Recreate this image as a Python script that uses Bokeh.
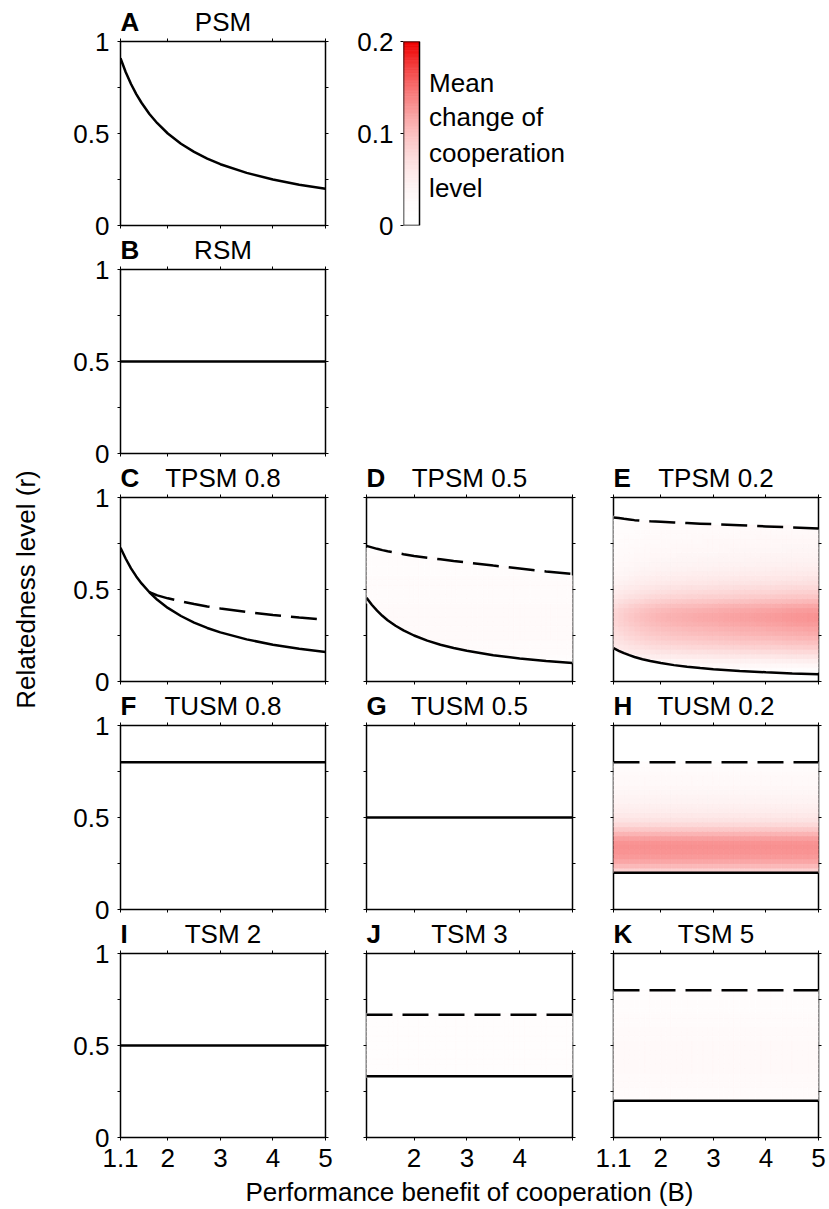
import numpy as np
from bokeh.plotting import figure
from bokeh.layouts import column, row
from bokeh.models import Range1d, LinearAxis, FixedTicker, Spacer, ColumnDataSource, LinearColorMapper
from bokeh.transform import transform
from bokeh.core.properties import value
from bokeh.embed import file_html
from bokeh.resources import INLINE

FONT = "Liberation Sans"
FS = "26px"

# ---------------- data ----------------
B_lim = [1.1, 5.0]
r_lim = [0.0, 1.0]
B_ticks = [1.1, 2, 3, 4, 5]
B_tick_labels = ["1.1", "2", "3", "4", "5"]
r_ticks = [0, 0.5, 1]
r_tick_labels = ["0", "0.5", "1"]
r_minor = [0.25, 0.75]

B_pts = [1.1, 1.2, 1.3, 1.4, 1.5, 1.65, 1.8, 2.0, 2.25, 2.5, 2.75, 3.0, 3.5, 4.0, 4.5, 5.0]
r_psm = [0.909, 0.833, 0.769, 0.714, 0.667, 0.606, 0.556, 0.500, 0.444, 0.400, 0.364, 0.333, 0.286, 0.250, 0.222, 0.200]
r_tpsm08 = [0.727, 0.667, 0.615, 0.571, 0.533, 0.485, 0.444, 0.400, 0.356, 0.320, 0.291, 0.267, 0.229, 0.200, 0.178, 0.160]
B_tpsm08_dash = [1.65, 1.8, 2.0, 2.25, 2.5, 2.75, 3.0, 3.5, 4.0, 4.5, 5.0]
r_tpsm08_dash = [0.485, 0.468, 0.452, 0.436, 0.421, 0.408, 0.397, 0.378, 0.362, 0.348, 0.335]
r_tpsm05 = [0.455, 0.417, 0.385, 0.357, 0.333, 0.303, 0.278, 0.250, 0.222, 0.200, 0.182, 0.167, 0.143, 0.125, 0.111, 0.100]
r_tpsm05_dash = [0.737, 0.729, 0.721, 0.714, 0.708, 0.700, 0.692, 0.682, 0.672, 0.664, 0.655, 0.647, 0.630, 0.614, 0.598, 0.584]
r_tpsm02 = [0.182, 0.167, 0.154, 0.143, 0.133, 0.121, 0.111, 0.100, 0.089, 0.080, 0.073, 0.067, 0.057, 0.050, 0.044, 0.040]
r_tpsm02_dash = [0.891, 0.888, 0.884, 0.881, 0.877, 0.874, 0.871, 0.868, 0.864, 0.861, 0.858, 0.855, 0.849, 0.843, 0.837, 0.832]

B_flat = [1.1, 5.0]
r_rsm = [0.5, 0.5]
r_tusm08 = [0.8, 0.8]
r_tusm05 = [0.5, 0.5]
r_tusm02 = [0.2, 0.2]
r_tusm02_dash = [0.8, 0.8]
r_tsm2 = [0.5, 0.5]
r_tsm3 = [0.333, 0.333]
r_tsm3_dash = [0.667, 0.667]
r_tsm5 = [0.2, 0.2]
r_tsm5_dash = [0.8, 0.8]

# heat-map grid (simulation cells) and read-off profiles (mean change of cooperation level)
heat_B_edges = np.round(np.arange(1.1, 5.0001, 0.1), 3)
heat_r_edges = np.linspace(0, 1, 41)
prof_E = [0, 0, 0.02, 0.035, 0.05, 0.065, 0.078, 0.09, 0.10, 0.108, 0.115, 0.12, 0.126, 0.13,
          0.13, 0.126, 0.118, 0.106, 0.095, 0.086, 0.078, 0.07, 0.064, 0.058, 0.053, 0.049, 0.046,
          0.043, 0.04, 0.038, 0.036, 0.034, 0.032, 0.03, 0.028, 0.026, 0, 0, 0, 0]
fac_E = [0.62, 0.65, 0.68, 0.71, 0.74, 0.77, 0.8, 0.83, 0.85, 0.87, 0.885, 0.9, 0.93, 0.95, 0.98, 1.0]
prof_H = [0, 0, 0, 0, 0, 0, 0, 0, 0.085, 0.105, 0.118, 0.126, 0.13, 0.132, 0.13, 0.122, 0.108,
          0.092, 0.078, 0.067, 0.059, 0.053, 0.048, 0.044, 0.041, 0.038, 0.035, 0.032, 0.03, 0.027,
          0.025, 0.022, 0, 0, 0, 0, 0, 0, 0, 0]
fac_flat = [1.0] * len(B_pts)
prof_D = [0, 0, 0, 0, 0.02, 0.022, 0.024, 0.025, 0.026, 0.027, 0.028, 0.028, 0.028, 0.028, 0.028,
          0.027, 0.027, 0.026, 0.026, 0.025, 0.025, 0.024, 0.024, 0.023, 0.022, 0.022, 0.021, 0.02,
          0.02, 0.02, 0, 0, 0, 0, 0, 0, 0, 0, 0, 0]
prof_J = [0] * 13 + [0.02] * 14 + [0] * 13
prof_K = [0] * 8 + [0.022, 0.024, 0.026, 0.027, 0.028, 0.029, 0.03, 0.03, 0.031, 0.031, 0.031, 0.03,
                    0.03, 0.029, 0.028, 0.027, 0.026, 0.025, 0.024, 0.023, 0.022, 0.021, 0.02, 0.02] + [0] * 8

cb_lim = [0.0, 0.2]
cb_ticks = [0, 0.1, 0.2]
cb_tick_labels = ["0", "0.1", "0.2"]
cb_text = ["Mean", "change of", "cooperation", "level"]
cb_text_y = [0.1550, 0.1177, 0.0789, 0.0409]

y_title = "Relatedness level (r)"
x_title = "Performance benefit of cooperation (B)"

# palette: white -> red
palette = []
for i in range(256):
    s = (i / 255.0) ** 2
    palette.append("#%02x%02x%02x" % (int(round(255 - 15 * s)), int(round(255 * (1 - s))), int(round(255 * (1 - s)))))
mapper = LinearColorMapper(palette=palette, low=cb_lim[0], high=cb_lim[1])

# ---------------- layout ----------------
LEFT_W = 50
COL_W = [295, 246, 238]
COL_BL = [70, 21, 22]
COL_BR = [20, 19, 11]
FRAME_H = 184
TOP_B = 10
BOT_B = [12, 12, 12, 12, 41]
STRIP_H = [31, 22, 22, 22, 22]
XLAB_H = 31
TOTAL_W = sum(COL_W)
col_x0 = np.cumsum([0] + COL_W[:-1])
frame_left = [int(col_x0[i] + COL_BL[i]) for i in range(3)]
frame_w = [COL_W[i] - COL_BL[i] - COL_BR[i] for i in range(3)]
frame_mid = [frame_left[i] + frame_w[i] / 2.0 for i in range(3)]
CAP_MID = 9.3   # half cap height of a 26px font


def blank_fig(w, h):
    p = figure(width=w, height=h, x_range=Range1d(0, w), y_range=Range1d(0, h),
               toolbar_location=None, output_backend="svg",
               min_border=0, min_border_left=0, min_border_right=0, min_border_top=0, min_border_bottom=0,
               x_axis_location=None, y_axis_location=None)
    for g in p.grid:
        g.visible = False
    p.outline_line_color = None
    p.background_fill_color = "white"
    p.border_fill_color = "white"
    return p


def style_axis(ax, show):
    ax.axis_line_color = None
    ax.major_tick_in = 0
    ax.major_tick_out = 3
    ax.minor_tick_in = 0
    ax.minor_tick_out = 3
    ax.major_tick_line_color = "black"
    ax.minor_tick_line_color = "black"
    ax.major_tick_line_width = 1
    ax.minor_tick_line_width = 1
    if show:
        ax.major_label_text_font = FONT
        ax.major_label_text_font_size = FS
        ax.major_label_text_color = "black"
        ax.major_label_standoff = 8
    else:
        ax.major_label_text_font_size = "1px"
        ax.major_label_text_color = None
        ax.major_label_standoff = 0


def heat_cells(prof, fac, Bs, lo, Bd, hi):
    Bc = 0.5 * (heat_B_edges[:-1] + heat_B_edges[1:])
    rc = 0.5 * (heat_r_edges[:-1] + heat_r_edges[1:])
    L, R, Bo, T, V = [], [], [], [], []
    for i, b in enumerate(Bc):
        f = np.interp(b, B_pts, fac)
        low = np.interp(b, Bs, lo)
        high = np.interp(b, Bd, hi)
        for j, r in enumerate(rc):
            v = prof[j] * f
            if v <= 0 or r < low or r > high:
                continue
            L.append(heat_B_edges[i]); R.append(heat_B_edges[i + 1])
            Bo.append(heat_r_edges[j]); T.append(heat_r_edges[j + 1]); V.append(v)
    return ColumnDataSource(dict(left=L, right=R, bottom=Bo, top=T, v=V))


def panel(spec, ci, ri):
    p = figure(width=COL_W[ci], height=TOP_B + FRAME_H + BOT_B[ri],
               x_range=Range1d(B_lim[0], B_lim[1]), y_range=Range1d(r_lim[0], r_lim[1]),
               toolbar_location=None, output_backend="svg",
               min_border_left=COL_BL[ci], min_border_right=COL_BR[ci],
               min_border_top=TOP_B, min_border_bottom=BOT_B[ri],
               x_axis_location=None, y_axis_location=None)
    for g in p.grid:
        g.visible = False
    p.background_fill_color = "white"
    p.border_fill_color = "white"
    p.outline_line_color = "black"
    p.outline_line_width = 1.5

    show_y = ci == 0
    ly = LinearAxis(ticker=FixedTicker(ticks=r_ticks, minor_ticks=r_minor))
    style_axis(ly, show_y)
    if show_y:
        ly.major_label_overrides = {t: s for t, s in zip(r_ticks, r_tick_labels)}
    p.add_layout(ly, "left")
    ry = LinearAxis(ticker=FixedTicker(ticks=r_ticks, minor_ticks=r_minor))
    style_axis(ry, False)
    p.add_layout(ry, "right")

    show_x = ri == 4
    bx = LinearAxis(ticker=FixedTicker(ticks=B_ticks))
    style_axis(bx, show_x)
    if show_x:
        labs = list(B_tick_labels)
        if ci == 1:
            labs[0] = ""
            labs[-1] = ""
        bx.major_label_overrides = {t: s for t, s in zip(B_ticks, labs)}
    p.add_layout(bx, "below")
    tx = LinearAxis(ticker=FixedTicker(ticks=B_ticks))
    style_axis(tx, False)
    p.add_layout(tx, "above")

    if spec.get("heat") is not None:
        prof, fac = spec["heat"]
        src = heat_cells(prof, fac, spec["solid"][0], spec["solid"][1],
                         spec["dash"][0], spec["dash"][1])
        p.quad(left="left", right="right", bottom="bottom", top="top", source=src,
               fill_color=transform("v", mapper), line_color=transform("v", mapper), line_width=0.8)

    sB, sR = spec["solid"]
    p.line(sB, sR, line_color="black", line_width=2.5)
    if spec.get("dash") is not None:
        dB, dR = spec["dash"]
        p.line(dB, dR, line_color="black", line_width=2.5, line_dash="26 10")
    return p


specs = {
    "A": dict(letter="A", title="PSM", solid=(B_pts, r_psm)),
    "B": dict(letter="B", title="RSM", solid=(B_flat, r_rsm)),
    "C": dict(letter="C", title="TPSM 0.8", solid=(B_pts, r_tpsm08), dash=(B_tpsm08_dash, r_tpsm08_dash)),
    "D": dict(letter="D", title="TPSM 0.5", solid=(B_pts, r_tpsm05), dash=(B_pts, r_tpsm05_dash),
              heat=(prof_D, fac_flat)),
    "E": dict(letter="E", title="TPSM 0.2", solid=(B_pts, r_tpsm02), dash=(B_pts, r_tpsm02_dash),
              heat=(prof_E, fac_E)),
    "F": dict(letter="F", title="TUSM 0.8", solid=(B_flat, r_tusm08)),
    "G": dict(letter="G", title="TUSM 0.5", solid=(B_flat, r_tusm05)),
    "H": dict(letter="H", title="TUSM 0.2", solid=(B_flat, r_tusm02), dash=(B_flat, r_tusm02_dash),
              heat=(prof_H, fac_flat)),
    "I": dict(letter="I", title="TSM 2", solid=(B_flat, r_tsm2)),
    "J": dict(letter="J", title="TSM 3", solid=(B_flat, r_tsm3), dash=(B_flat, r_tsm3_dash),
              heat=(prof_J, fac_flat)),
    "K": dict(letter="K", title="TSM 5", solid=(B_flat, r_tsm5), dash=(B_flat, r_tsm5_dash),
              heat=(prof_K, fac_flat)),
}

layout_keys = [["A", None, None], ["B", None, None], ["C", "D", "E"], ["F", "G", "H"], ["I", "J", "K"]]


def title_strip(ri):
    h = STRIP_H[ri]
    p = blank_fig(TOTAL_W, h)
    xs_l, letters, xs_t, titles = [], [], [], []
    for ci, k in enumerate(layout_keys[ri]):
        if k is None:
            continue
        xs_l.append(frame_left[ci]); letters.append(specs[k]["letter"])
        xs_t.append(frame_mid[ci]); titles.append(specs[k]["title"])
    yc = CAP_MID + 0.5
    p.text(x=xs_l, y=[yc] * len(xs_l), text=letters, text_font=value(FONT), text_font_size=FS,
           text_font_style="bold", text_align="left", text_baseline="middle", text_color="black")
    p.text(x=xs_t, y=[yc] * len(xs_t), text=titles, text_font=value(FONT), text_font_size=FS,
           text_align="center", text_baseline="middle", text_color="black")
    return p


def colorbar_fig():
    fw = COL_W[1] - 58 - 2
    bar_px = 16
    p = figure(width=COL_W[1], height=TOP_B + FRAME_H + BOT_B[0],
               x_range=Range1d(0, fw / bar_px), y_range=Range1d(cb_lim[0], cb_lim[1]),
               toolbar_location=None, output_backend="svg",
               min_border_left=58, min_border_right=2, min_border_top=TOP_B, min_border_bottom=BOT_B[0],
               x_axis_location=None, y_axis_location=None)
    for g in p.grid:
        g.visible = False
    p.outline_line_color = None
    p.border_fill_color = "white"
    ax = LinearAxis(ticker=FixedTicker(ticks=cb_ticks))
    style_axis(ax, True)
    ax.major_label_standoff = 7
    ax.major_label_overrides = {t: s for t, s in zip(cb_ticks, cb_tick_labels)}
    p.add_layout(ax, "left")
    edges = np.linspace(cb_lim[0], cb_lim[1], 129)
    mids = 0.5 * (edges[:-1] + edges[1:])
    src = ColumnDataSource(dict(bottom=edges[:-1], top=edges[1:], v=mids,
                                left=[0] * len(mids), right=[1] * len(mids)))
    p.quad(left="left", right="right", bottom="bottom", top="top", source=src,
           fill_color=transform("v", mapper), line_color=transform("v", mapper), line_width=0.8)
    p.quad(left=[0], right=[1], bottom=[cb_lim[0]], top=[cb_lim[1]], fill_color=None,
           line_color="black", line_width=1.5)
    p.text(x=[1.6] * len(cb_text), y=cb_text_y, text=cb_text, text_font=value(FONT),
           text_font_size=FS, text_baseline="middle", text_color="black")
    return p


blocks = []
for ri, keys in enumerate(layout_keys):
    blocks.append(title_strip(ri))
    h = TOP_B + FRAME_H + BOT_B[ri]
    figs = []
    for ci, k in enumerate(keys):
        if k is not None:
            figs.append(panel(specs[k], ci, ri))
        elif ri == 0 and ci == 1:
            figs.append(colorbar_fig())
        else:
            figs.append(Spacer(width=COL_W[ci], height=h))
    blocks.append(row(*figs, spacing=0))

# x-axis title strip
xl = blank_fig(TOTAL_W, XLAB_H)
xl.text(x=[frame_mid[1]], y=[17.5], text=[x_title], text_font=value(FONT), text_font_size=FS,
        text_align="center", text_baseline="middle", text_color="black")
blocks.append(xl)

TOTAL_H = sum(STRIP_H) + sum(TOP_B + FRAME_H + b for b in BOT_B) + XLAB_H
# y-axis title strip (centred on row C)
yl = blank_fig(LEFT_W, TOTAL_H)
row_c_mid = TOTAL_H - (sum(STRIP_H[:3]) + 2 * (TOP_B + FRAME_H + BOT_B[0]) + TOP_B + FRAME_H / 2.0)
yl.text(x=[25], y=[row_c_mid], text=[y_title], text_font=value(FONT), text_font_size=FS,
        text_align="center", text_baseline="middle", angle=np.pi / 2, text_color="black")

layout = row(yl, column(*blocks, spacing=0), spacing=0)
open("out.html", "w").write(file_html(layout, INLINE))
